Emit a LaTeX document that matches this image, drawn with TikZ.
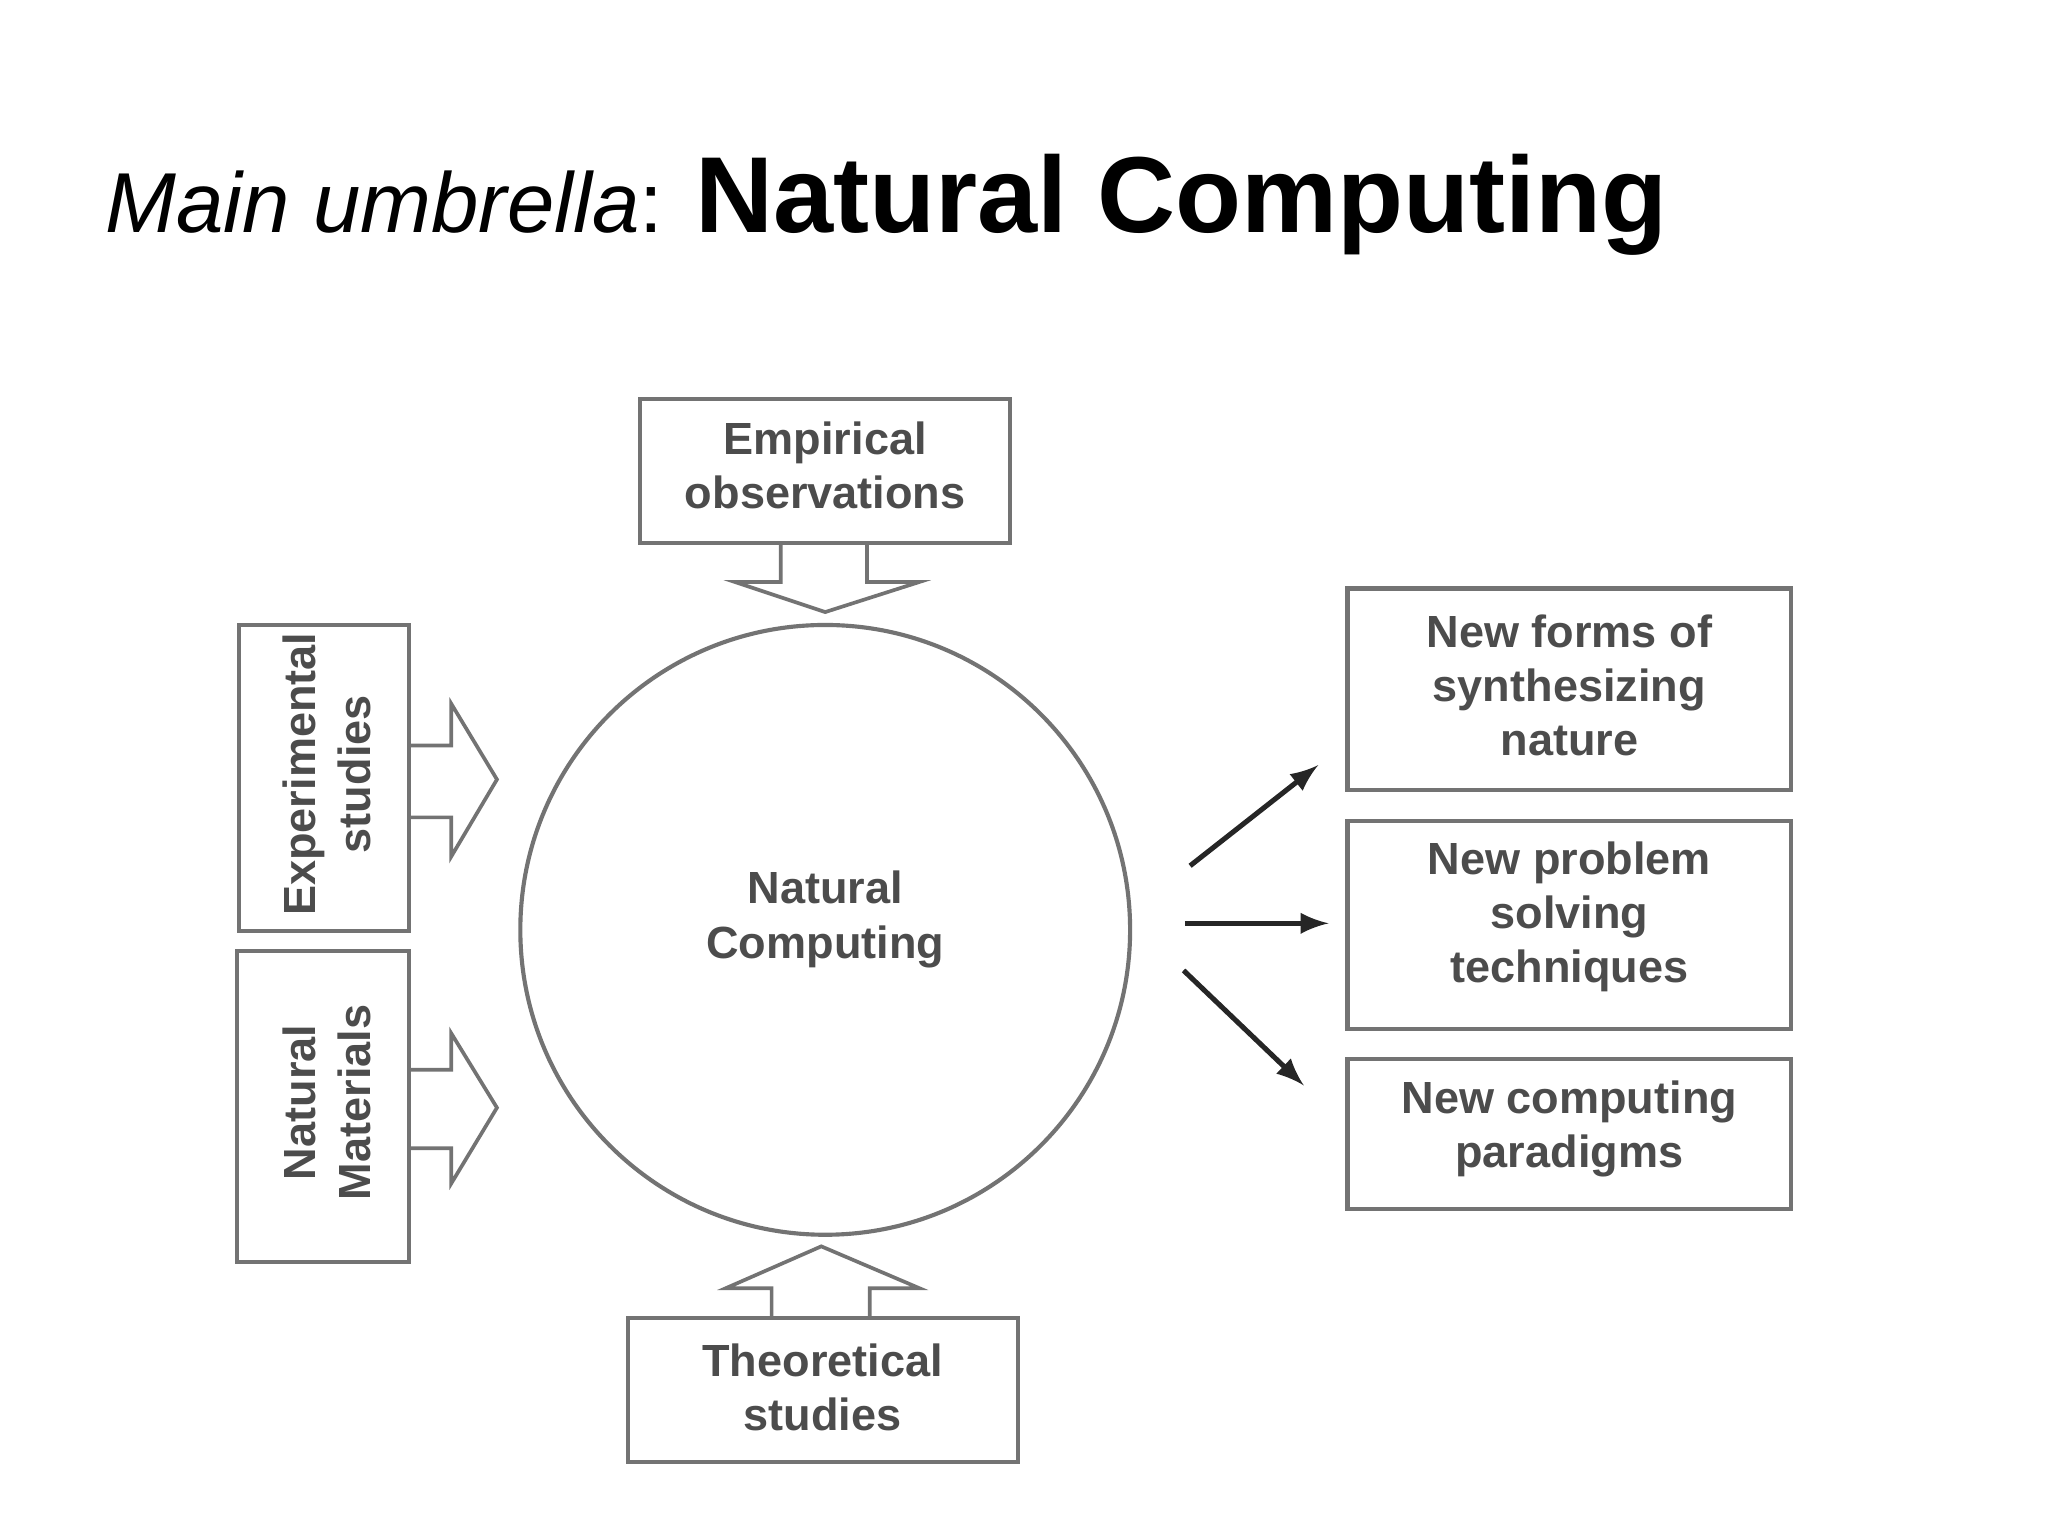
\documentclass[tikz,border=0pt]{standalone}
\usepackage{fontspec}
\setmainfont{Liberation Sans}
\begin{document}
\begin{tikzpicture}[x=0.01cm,y=-0.01cm,
  box/.style={draw=black!55,line width=0.9pt,fill=white,inner sep=0pt},
  lbl/.style={text=black!70,font=\fontsize{9.8}{11.8}\selectfont\bfseries,align=center},
  barrow/.style={draw=black!55,line width=0.8pt,fill=white},
  arr/.style={-latex,line width=1.1pt,black!85}]
\useasboundingbox (0,0) rectangle (1566,1174.5);
\node[anchor=base west,inner sep=0] (title) at (80,178) {\fontsize{18.5}{22}\selectfont\itshape Main umbrella\upshape: \fontsize{23.5}{28}\selectfont\bfseries Natural Computing};
% circle
\node[draw=black!55,line width=0.9pt,circle,minimum size=4.66cm] (nc) at (631,711) {};
\node[lbl] at (631,703) {Natural\\Computing};
% block arrows
\draw[barrow] (597,414) -- (597,445) -- (562,445) -- (631,468) -- (703,445) -- (663,445) -- (663,414);
\draw[barrow] (590,1009) -- (590,985) -- (555,985) -- (628,953) -- (703,985) -- (665,985) -- (665,1009);
\draw[barrow] (313,570) -- (345,570) -- (345,538) -- (380,596) -- (345,655) -- (345,625) -- (313,625);
\draw[barrow] (313,818) -- (345,818) -- (345,790) -- (380,847) -- (345,905) -- (345,878) -- (313,878);
% boxes
\node[box,minimum width=2.83cm,minimum height=1.1cm] (emp) at (631,360) {};
\node[lbl] at (631,356) {Empirical\\observations};
\node[box,minimum width=2.98cm,minimum height=1.1cm] (theo) at (629,1063) {};
\node[lbl] at (629,1061) {Theoretical\\studies};
\node[box,minimum width=1.3cm,minimum height=2.34cm] (exp) at (248,595) {};
\node[lbl,rotate=90] at (250,592) {Experimental\\studies};
\node[box,minimum width=1.32cm,minimum height=2.38cm] (mat) at (247,846) {};
\node[lbl,rotate=90] at (250,843) {Natural\\Materials};
\node[box,minimum width=3.39cm,minimum height=1.54cm] (r1) at (1200,527) {};
\node[lbl] at (1200,524) {New forms of\\synthesizing\\nature};
\node[box,minimum width=3.39cm,minimum height=1.59cm] (r2) at (1200,707) {};
\node[lbl] at (1200,701) {New problem\\solving\\techniques};
\node[box,minimum width=3.39cm,minimum height=1.15cm] (r3) at (1200,867) {};
\node[lbl] at (1200,863) {New computing\\paradigms};
\coordinate (a1) at (910,662); \coordinate (b1) at (1008,585);
\coordinate (a2) at (906,706); \coordinate (b2) at (1016,706);
\coordinate (a3) at (905,742); \coordinate (b3) at (997,830);
\draw[arr] (a1) -- (b1);
\draw[arr] (a2) -- (b2);
\draw[arr] (a3) -- (b3);
\end{tikzpicture}
\end{document}
